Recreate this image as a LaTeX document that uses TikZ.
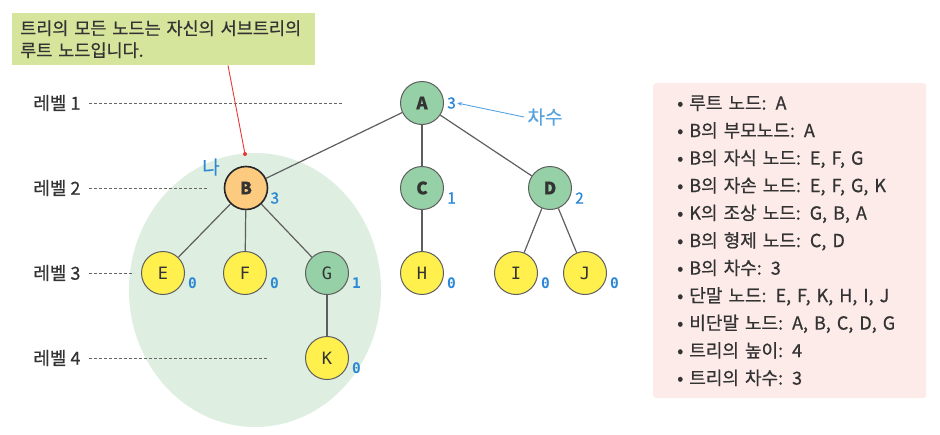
\documentclass[tikz,border=0pt]{standalone}
\usepackage{fontspec}
\setmainfont{Noto Sans CJK KR}[FakeBold=0.6]
\newfontfamily\monofont{DejaVu Sans Mono}
\usetikzlibrary{arrows.meta, positioning}
\definecolor{nodegreen}{HTML}{95D0A6}
\definecolor{nodeyellow}{HTML}{FFF04E}
\definecolor{nodeorange}{HTML}{FDCB80}
\definecolor{subtree}{HTML}{DEEEE0}
\definecolor{callout}{HTML}{D6E59C}
\definecolor{infobg}{HTML}{FCEBE9}
\definecolor{degblue}{HTML}{2B88D6}
\definecolor{lightblue}{HTML}{56A3E0}
\definecolor{ink}{HTML}{333333}
\definecolor{edgegray}{HTML}{5E5E5E}
\definecolor{pinred}{HTML}{E53935}

\begin{document}
\begin{tikzpicture}[x=1pt, y=-1pt, every node/.style={text=ink},
    tnode/.style={circle, minimum size=43pt, inner sep=0pt, draw=edgegray, line width=1pt, font=\bfseries\fontsize{17}{17}\selectfont},
    mono/.style={font=\monofont\fontsize{17}{17}\selectfont},
    deg/.style={text=degblue, inner sep=1pt, anchor=west, font=\fontsize{15.5}{15.5}\selectfont},
    degm/.style={deg, font=\monofont\bfseries\fontsize{14.5}{14.5}\selectfont},
    level/.style={anchor=east, font=\fontsize{18}{18}\selectfont},
    levelline/.style={dashed, dash pattern=on 3pt off 2pt, draw=gray!80!black, line width=0.8pt},
    tedge/.style={draw=edgegray, line width=1.2pt}]
    \useasboundingbox (0,0) rectangle (940,434);
    % subtree of B
    \fill[subtree] (255,290) ellipse (126pt and 137pt);
    % callout
    \node[fill=callout, anchor=north west, minimum width=303pt, minimum height=52pt, text width=287pt, inner xsep=8pt, align=left, font=\fontsize{17.5}{22}\selectfont] (note) at (12,13) {트리의 모든 노드는 자신의 서브트리의\\루트 노드입니다.};
    % levels
    \node[level] (lv1) at (84,103) {레벨 1};
    \node[level] (lv2) at (84,188) {레벨 2};
    \node[level] (lv3) at (84,273) {레벨 3};
    \node[level] (lv4) at (84,358) {레벨 4};
    \coordinate (lv1end) at (343,103);
    \coordinate (lv2end) at (207,188);
    \coordinate (lv3end) at (134,273);
    \coordinate (lv4end) at (268,358);
    \draw[levelline] (lv1.east) ++(5pt,0) -- (lv1end);
    \draw[levelline] (lv2.east) ++(5pt,0) -- (lv2end);
    \draw[levelline] (lv3.east) ++(5pt,0) -- (lv3end);
    \draw[levelline] (lv4.east) ++(5pt,0) -- (lv4end);
    % tree
    \node[tnode, fill=nodegreen] (A) at (422,103) {A};
    \node[tnode, fill=nodeorange, draw=black!85, line width=1.6pt] (B) at (246,188) {B};
    \node[tnode, fill=nodegreen] (C) at (422,188) {C};
    \node[tnode, fill=nodegreen] (D) at (550,188) {D};
    \node[tnode, mono, fill=nodeyellow] (E) at (163,273) {E};
    \node[tnode, mono, fill=nodeyellow] (F) at (245,273) {F};
    \node[tnode, mono, fill=nodegreen] (G) at (327,273) {G};
    \node[tnode, mono, fill=nodeyellow] (H) at (422,273) {H};
    \node[tnode, mono, fill=nodeyellow] (I) at (516,273) {I};
    \node[tnode, mono, fill=nodeyellow] (J) at (585,273) {J};
    \node[tnode, mono, fill=nodeyellow] (K) at (327,358) {K};
    \draw[tedge] (A) -- (B);
    \draw[tedge] (A) -- (C);
    \draw[tedge] (A) -- (D);
    \draw[tedge] (B) -- (E);
    \draw[tedge] (B) -- (F);
    \draw[tedge] (B) -- (G);
    \draw[tedge] (C) -- (H);
    \draw[tedge] (D) -- (I);
    \draw[tedge] (D) -- (J);
    \draw[tedge] (G) -- (K);
    % degrees
    \node[deg] (dA) at ([xshift=2pt]A.east) {3};
    \node[deg] (dB) at ([xshift=1pt, yshift=-10pt]B.east) {3};
    \node[deg] (dC) at ([xshift=2pt, yshift=-10pt]C.east) {1};
    \node[deg] (dD) at ([xshift=2pt, yshift=-10pt]D.east) {2};
    \node[degm] (dE) at ([xshift=2pt, yshift=-10pt]E.east) {0};
    \node[degm] (dF) at ([xshift=2pt, yshift=-10pt]F.east) {0};
    \node[degm] (dG) at ([xshift=2pt, yshift=-10pt]G.east) {1};
    \node[degm] (dH) at ([xshift=2pt, yshift=-10pt]H.east) {0};
    \node[degm] (dI) at ([xshift=2pt, yshift=-10pt]I.east) {0};
    \node[degm] (dJ) at ([xshift=2pt, yshift=-10pt]J.east) {0};
    \node[degm] (dK) at ([xshift=2pt, yshift=-10pt]K.east) {0};
    \node[text=lightblue, font=\fontsize{19}{19}\selectfont] (cnt) at (545,117) {차수};
    \draw[-{Stealth[length=5pt]}, lightblue, line width=0.9pt] (cnt.west) -- (dA.east);
    % pointer to B
    \node[text=degblue, font=\fontsize{19}{19}\selectfont] (na) at (211,167) {나};
    \coordinate (pin) at (245,154);
    \draw[pinred, line width=0.9pt] ([xshift=216pt]note.south west) -- (pin);
    \fill[pinred] (pin) circle (2pt);
    % facts
    \node[fill=infobg, rounded corners=3pt, anchor=north west, minimum width=270pt, minimum height=315pt, text width=225pt, inner xsep=24pt, align=left, font=\fontsize{18}{27.5}\selectfont] (info) at (653,83) {%
      • 루트 노드: A\\
      • B의 부모노드: A\\
      • B의 자식 노드: E, F, G\\
      • B의 자손 노드: E, F, G, K\\
      • K의 조상 노드: G, B, A\\
      • B의 형제 노드: C, D\\
      • B의 차수: 3\\
      • 단말 노드: E, F, K, H, I, J\\
      • 비단말 노드: A, B, C, D, G\\
      • 트리의 높이: 4\\
      • 트리의 차수: 3};
\end{tikzpicture}
\end{document}
